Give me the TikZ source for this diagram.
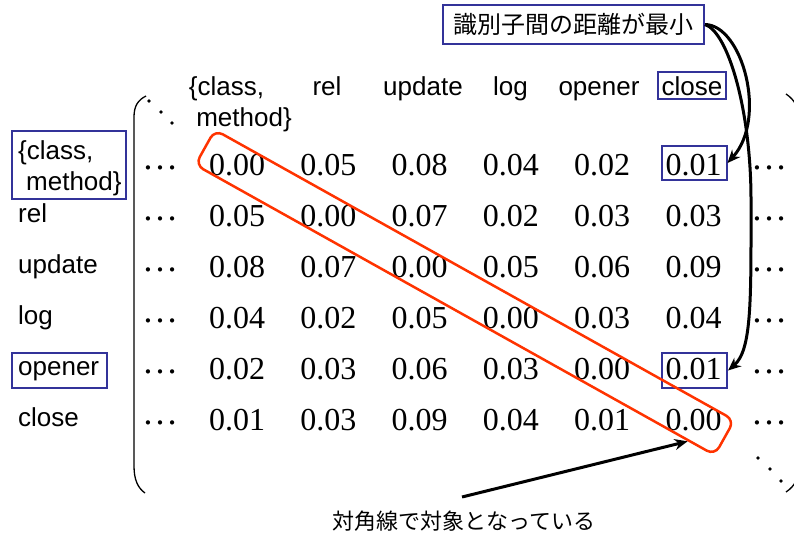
\documentclass[tikz,border=0pt]{standalone}
\usepackage{fontspec}
\setmainfont{Liberation Serif}
\newfontfamily\labfont{Liberation Sans}
\newfontfamily\jpfont{Noto Sans CJK JP}
\usetikzlibrary{arrows.meta,calc}
\definecolor{boxblue}{RGB}{51,51,153}
\definecolor{diagred}{RGB}{255,51,0}

\begin{document}
\begin{tikzpicture}[x=1pt,y=-1pt,
  num/.style={font=\fontsize{32}{36}\selectfont, anchor=base, inner sep=0pt},
  lab/.style={font=\labfont\fontsize{26}{30}\selectfont, anchor=base west, inner sep=0pt},
  hdr/.style={font=\labfont\fontsize{26}{30}\selectfont, anchor=base, inner sep=0pt},
  hdots/.style={font=\fontsize{36}{40}\selectfont, anchor=base, inner sep=0pt},
  ddot/.style={fill=black, circle, inner sep=0pt, minimum size=3.8pt},
  bluebox/.style={draw=boxblue, line width=2pt, inner sep=0pt},
  link/.style={line width=3pt, -{Stealth[length=13pt,width=11pt]}},
  paren/.style={line width=1.3pt},
]
\useasboundingbox (0,0) rectangle (794,533);
\clip (0,0) rectangle (794,533);

% distance matrix entries, with the continuation dots of each row
\foreach \row [count=\i] in {
  {0.00,0.05,0.08,0.04,0.02,0.01},
  {0.05,0.00,0.07,0.02,0.03,0.03},
  {0.08,0.07,0.00,0.05,0.06,0.09},
  {0.04,0.02,0.05,0.00,0.03,0.04},
  {0.02,0.03,0.06,0.03,0.00,0.01},
  {0.01,0.03,0.09,0.04,0.01,0.00}} {
  \foreach \v [count=\j] in \row {
    \node[num] (m\i\j) at ({145.7+91.3*\j},{124+51*\i}) {\v};
  }
  \node[hdots] (ld\i) at (160,{118+51*\i}) {…};
  \node[hdots] (rd\i) at (769,{118+51*\i}) {…};
}

% diagonal dots
\node[ddot] (tl1) at (149,101) {};
\node[ddot] (tl2) at (161,112) {};
\node[ddot] (tl3) at (172,123) {};
\node[ddot] (bd1) at (758,458) {};
\node[ddot] (bd2) at (770,469) {};
\node[ddot] (bd3) at (781,481) {};

% column headers
\node[hdr] (h1a) at (226.5,95) {\{class,};
\node[hdr] (h1b) at (244,126) {method\}};
\node[hdr] (h2) at (327,95) {rel};
\node[hdr] (h3) at (423,95) {update};
\node[hdr] (h4) at (510.5,95) {log};
\node[hdr] (h5) at (599,95) {opener};
\node[hdr] (h6) at (692,95) {close};

% row labels
\node[lab] (r1a) at (18,159) {\{class,};
\node[lab] (r1b) at (26,190) {method\}};
\node[lab] (r2) at (18,222) {rel};
\node[lab] (r3) at (18,273) {update};
\node[lab] (r4) at (18,324) {log};
\node[lab] (r5) at (18,375) {opener};
\node[lab] (r6) at (18,426) {close};

% matrix brackets
\draw[paren] (146,96) .. controls (138,100) and (134,106) .. (134,117)
  -- (134,466) .. controls (134,480) and (138,488) .. (145,493);
\draw[paren] (786,94) .. controls (795,100) and (799,108) .. (799,120)
  -- (799,466) .. controls (799,478) and (795,486) .. (786,492);

% highlighted entries
\node[bluebox, minimum width=68, minimum height=27] (bh6) at (692,85.5) {};
\node[bluebox, minimum width=114, minimum height=68] (bl1) at (69,165) {};
\node[bluebox, minimum width=95, minimum height=35] (bl5) at (59.5,370.5) {};
\node[bluebox, minimum width=65, minimum height=34] (b16) at (694,163) {};
\node[bluebox, minimum width=65, minimum height=35] (b56) at (694.5,370.5) {};

% diagonal band
\node[draw=diagred, line width=2.5pt, rounded corners=9pt, minimum width=595,
  minimum height=40, rotate=-29.2, inner sep=0pt] (diag) at (464.8,292.5) {};

% note on the smallest distance
\node[bluebox, minimum width=261, minimum height=39,
  font=\jpfont\fontsize{24}{28}\selectfont] (note) at (573.5,24.5) {識別子間の距離が最小};
\draw[link] (note.east) .. controls (742,25) and (768,118) .. (b16.east);
\draw[link] (note.east) .. controls (728,32) and (751,110) .. (751,200)
  .. controls (751,300) and (752,350) .. (b56.east);

% note on the symmetry
\node[font=\jpfont\fontsize{22}{26}\selectfont, inner sep=0pt] (cap) at (464,521) {対角線で対象となっている};
\coordinate (tail) at (462,497);
\coordinate (tip) at ($(diag.south)!0.894!(diag.south east)$);
\draw[link] (tail) -- (tip);
\end{tikzpicture}
\end{document}
